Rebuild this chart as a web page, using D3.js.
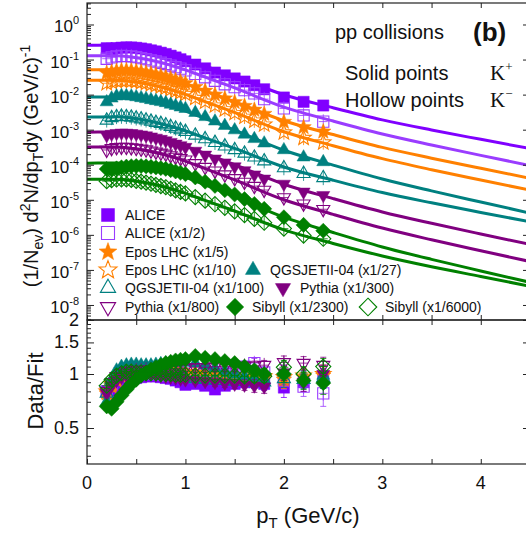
<!DOCTYPE html>
<html>
<head>
<meta charset="utf-8">
<title>Kaon spectra pp</title>
<script src="https://d3js.org/d3.v7.min.js"></script>
<style>
  body { margin: 0; background: #fff; }
  svg { display: block; font-family: "Liberation Sans", Arial, sans-serif; }
</style>
</head>
<body>
<svg id="chart" width="526" height="538"></svg>
<script>
// pT of the points and of the fit samples (GeV/c)
const ptPoints = [0.2, 0.25, 0.3, 0.35, 0.4, 0.45, 0.5, 0.55, 0.6, 0.65, 0.7, 0.75, 0.8, 0.85, 0.9, 0.95, 1.0,
                  1.1, 1.2, 1.3, 1.4, 1.5, 1.6, 1.7, 1.8, 2.0, 2.2, 2.4];
const ptCurve = [0, 0.3, 0.6, 0.9, 1.2, 1.5, 2.0, 2.5, 3.0, 3.5, 4.0, 4.5];

const seriesLabels = ["ALICE", "ALICE (x1/2)", "Epos LHC (x1/5)", "Epos LHC (x1/10)", "QGSJETII-04 (x1/27)",
                      "QGSJETII-04 (x1/100)", "Pythia (x1/300)", "Pythia (x1/800)", "Sibyll (x1/2300)", "Sibyll (x1/6000)"];
const scaleFactors = [1, 1/2, 1/5, 1/10, 1/27, 1/100, 1/300, 1/800, 1/2300, 1/6000];
const seriesColors = ["#8000ff", "#9a3cff", "#ff8000", "#ff8000", "#008080", "#008080", "#800080", "#800080", "#008000", "#008000"];
const seriesShapes = ["square", "square", "star", "star", "triangle", "triangle", "tridown", "tridown", "diamond", "diamond"];
const seriesFilled = [true, false, true, false, true, false, true, false, true, false];

// spectra, unscaled (1/Nev d2N/dpTdy)
const aliceKp = [0.211, 0.204, 0.212, 0.218, 0.222, 0.221, 0.216, 0.207, 0.197, 0.183, 0.171, 0.157, 0.144, 0.129, 0.115, 0.102, 0.0893,
                 0.0719, 0.0561, 0.0426, 0.0355, 0.0290, 0.0236, 0.0185, 0.0142, 0.00828, 0.00621, 0.00489];
const aliceKm = [0.211, 0.231, 0.245, 0.254, 0.252, 0.245, 0.234, 0.220, 0.205, 0.189, 0.176, 0.162, 0.149, 0.135, 0.121, 0.110, 0.0985,
                 0.0783, 0.0624, 0.0496, 0.0394, 0.0325, 0.0268, 0.0217, 0.0149, 0.00806, 0.00509, 0.00340];
const eposKp = [0.206, 0.223, 0.237, 0.246, 0.247, 0.243, 0.234, 0.224, 0.211, 0.198, 0.185, 0.172, 0.160, 0.144, 0.130, 0.118, 0.106,
                0.0825, 0.0640, 0.0499, 0.0389, 0.0304, 0.0237, 0.0184, 0.0141, 0.00832, 0.00589, 0.00440];
const eposKm = [0.211, 0.231, 0.245, 0.254, 0.254, 0.250, 0.241, 0.228, 0.215, 0.200, 0.185, 0.172, 0.158, 0.143, 0.128, 0.117, 0.105,
                0.0807, 0.0630, 0.0490, 0.0381, 0.0300, 0.0234, 0.0182, 0.0141, 0.00837, 0.00584, 0.00434];
const qgsKp = [0.166, 0.212, 0.244, 0.251, 0.249, 0.242, 0.231, 0.217, 0.205, 0.191, 0.179, 0.168, 0.157, 0.142, 0.130, 0.118, 0.107,
               0.0825, 0.0627, 0.0470, 0.0351, 0.0263, 0.0198, 0.0148, 0.0111, 0.00713, 0.00443, 0.00325];
const qgsKm = [0.185, 0.217, 0.232, 0.237, 0.233, 0.225, 0.212, 0.200, 0.186, 0.172, 0.158, 0.148, 0.135, 0.121, 0.109, 0.0978, 0.0877,
               0.0689, 0.0543, 0.0425, 0.0338, 0.0266, 0.0211, 0.0163, 0.0127, 0.00809, 0.00557, 0.00422];
const pythiaKp = [0.206, 0.225, 0.237, 0.243, 0.242, 0.236, 0.227, 0.2155, 0.203, 0.189, 0.174, 0.161, 0.147, 0.132, 0.118, 0.106, 0.0954,
                  0.0739, 0.0573, 0.0444, 0.0343, 0.0266, 0.0206, 0.0156, 0.0119, 0.00848, 0.00506, 0.00405];
const pythiaKm = [0.211, 0.236, 0.250, 0.256, 0.254, 0.248, 0.238, 0.226, 0.215, 0.200, 0.187, 0.174, 0.163, 0.147, 0.133, 0.122, 0.111,
                  0.0872, 0.0682, 0.0536, 0.0418, 0.0326, 0.0257, 0.0196, 0.0152, 0.00928, 0.00617, 0.00430];
const sibyllKp = [0.174, 0.168, 0.181, 0.193, 0.203, 0.209, 0.211, 0.211, 0.207, 0.200, 0.192, 0.184, 0.175, 0.161, 0.148, 0.136, 0.124,
                  0.0999, 0.0755, 0.0574, 0.0432, 0.0326, 0.0241, 0.0175, 0.0127, 0.00731, 0.00443, 0.00301];
const sibyllKm = [0.204, 0.219, 0.228, 0.230, 0.229, 0.221, 0.208, 0.198, 0.185, 0.172, 0.160, 0.148, 0.137, 0.124, 0.111, 0.101, 0.0914,
                  0.0716, 0.0567, 0.0449, 0.0355, 0.0281, 0.0220, 0.0171, 0.0133, 0.00904, 0.00573, 0.00464];

// fit curves, unscaled, at ptCurve
const fitAliceKp = [0.255, 0.258, 0.203, 0.126, 0.065, 0.033, 0.0099, 0.0042, 0.0019, 0.00098, 0.00053, 0.00029];
const fitAliceKm = [0.255, 0.258, 0.203, 0.126, 0.0635, 0.0311, 0.0088, 0.00352, 0.0015, 0.00073, 0.00037, 0.00019];
const fitEposKp = [0.255, 0.258, 0.203, 0.126, 0.0638, 0.0314, 0.0090, 0.00363, 0.00156, 0.00077, 0.000395, 0.000206];
const fitEposKm = [0.255, 0.258, 0.203, 0.126, 0.0634, 0.0310, 0.00875, 0.00349, 0.00149, 0.00072, 0.000366, 0.000189];
const fitQgsKp = [0.230, 0.232, 0.183, 0.113, 0.0558, 0.0263, 0.0070, 0.00264, 0.00106, 0.000486, 0.000233, 0.000113];
const fitQgsKm = [0.230, 0.232, 0.183, 0.113, 0.0582, 0.0292, 0.00864, 0.00361, 0.00161, 0.00082, 0.000436, 0.000235];
const fitPythiaKp = [0.255, 0.258, 0.203, 0.126, 0.0628, 0.0303, 0.00835, 0.00325, 0.00135, 0.00064, 0.000317, 0.00016];
const fitPythiaKm = [0.255, 0.258, 0.203, 0.126, 0.0623, 0.0297, 0.00803, 0.00307, 0.00125, 0.00058, 0.000282, 0.000139];
const fitSibyllKp = [0.255, 0.258, 0.203, 0.126, 0.0612, 0.0284, 0.00734, 0.00268, 0.00104, 0.00046, 0.000215, 0.000102];
const fitSibyllKm = [0.230, 0.232, 0.183, 0.113, 0.0578, 0.0287, 0.00833, 0.00341, 0.0015, 0.00074, 0.00039, 0.000206];

// Data/Fit
const ratioAliceKp = [0.80, 0.78, 0.82, 0.86, 0.90, 0.93, 0.95, 0.96, 0.97, 0.97, 0.97, 0.96, 0.95, 0.94, 0.92, 0.90, 0.87,
                      0.88, 0.86, 0.82, 0.86, 0.88, 0.90, 0.90, 0.88, 0.84, 0.90, 0.95];
const ratioAliceKm = [0.80, 0.88, 0.95, 1.0, 1.02, 1.03, 1.03, 1.02, 1.01, 1.0, 1.0, 0.99, 0.98, 0.98, 0.97, 0.97, 0.96,
                      0.97, 0.98, 0.99, 1.0, 1.05, 1.10, 1.15, 1.02, 0.92, 0.85, 0.78];
const ratioEposKp = [0.78, 0.85, 0.92, 0.97, 1.0, 1.02, 1.03, 1.04, 1.04, 1.05, 1.05, 1.05, 1.05, 1.05, 1.04, 1.04, 1.03,
                     1.02, 1.0, 0.99, 0.98, 0.97, 0.96, 0.96, 0.95, 0.93, 0.96, 0.98];
const ratioEposKm = [0.80, 0.88, 0.95, 1.0, 1.03, 1.05, 1.06, 1.06, 1.06, 1.06, 1.05, 1.05, 1.04, 1.04, 1.03, 1.03, 1.02,
                     1.0, 0.99, 0.98, 0.97, 0.97, 0.96, 0.97, 0.97, 0.96, 0.98, 1.0];
const ratioQgsKp = [0.70, 0.90, 1.05, 1.10, 1.12, 1.13, 1.13, 1.12, 1.12, 1.12, 1.13, 1.14, 1.15, 1.15, 1.16, 1.16, 1.16,
                    1.15, 1.12, 1.08, 1.04, 1.0, 0.97, 0.95, 0.93, 1.02, 0.95, 0.98];
const ratioQgsKm = [0.78, 0.92, 1.0, 1.04, 1.05, 1.05, 1.04, 1.03, 1.02, 1.01, 1.0, 1.0, 0.99, 0.98, 0.97, 0.96, 0.95,
                    0.94, 0.93, 0.92, 0.92, 0.91, 0.91, 0.90, 0.90, 0.94, 0.93, 0.95];
const ratioPythiaKp = [0.78, 0.86, 0.92, 0.96, 0.98, 0.99, 1.0, 1.0, 1.0, 1.0, 0.99, 0.98, 0.97, 0.96, 0.95, 0.94, 0.93,
                       0.92, 0.91, 0.90, 0.89, 0.88, 0.87, 0.86, 0.85, 1.02, 0.90, 1.0];
const ratioPythiaKm = [0.80, 0.90, 0.97, 1.01, 1.03, 1.04, 1.05, 1.05, 1.06, 1.06, 1.06, 1.06, 1.07, 1.07, 1.07, 1.08, 1.08,
                       1.09, 1.09, 1.10, 1.10, 1.10, 1.11, 1.11, 1.12, 1.16, 1.15, 1.12];
const ratioSibyllKp = [0.66, 0.64, 0.70, 0.76, 0.82, 0.88, 0.93, 0.98, 1.02, 1.06, 1.09, 1.12, 1.15, 1.17, 1.19, 1.20, 1.21,
                       1.26, 1.23, 1.21, 1.18, 1.15, 1.10, 1.05, 1.00, 1.00, 0.92, 0.89];
const ratioSibyllKm = [0.86, 0.93, 0.98, 1.01, 1.03, 1.03, 1.02, 1.02, 1.01, 1.01, 1.01, 1.0, 1.0, 1.0, 0.99, 0.99, 0.99,
                       0.98, 0.98, 0.98, 0.98, 0.98, 0.97, 0.97, 0.97, 1.09, 1.0, 1.1];
// error on the ratio, same for all series
const ratioErr = [0.03, 0.03, 0.03, 0.03, 0.03, 0.03, 0.03, 0.03, 0.03, 0.03, 0.03, 0.03, 0.03, 0.03, 0.03, 0.03, 0.04,
                  0.04, 0.04, 0.05, 0.05, 0.05, 0.06, 0.07, 0.07, 0.10, 0.10, 0.12];

const spectra = [aliceKp, aliceKm, eposKp, eposKm, qgsKp, qgsKm, pythiaKp, pythiaKm, sibyllKp, sibyllKm];
const fits = [fitAliceKp, fitAliceKm, fitEposKp, fitEposKm, fitQgsKp, fitQgsKm, fitPythiaKp, fitPythiaKm, fitSibyllKp, fitSibyllKm];
const ratios = [ratioAliceKp, ratioAliceKm, ratioEposKp, ratioEposKm, ratioQgsKp, ratioQgsKm, ratioPythiaKp, ratioPythiaKm, ratioSibyllKp, ratioSibyllKm];

const decades = [1, 1e-1, 1e-2, 1e-3, 1e-4, 1e-5, 1e-6, 1e-7, 1e-8];
const decadeExp = ["0", "-1", "-2", "-3", "-4", "-5", "-6", "-7", "-8"];
const ratioTicks = [0.5, 1, 1.5, 2];
const ratioMinor = [0.35, 0.4, 0.45, 0.6, 0.7, 0.8, 0.9, 1.1, 1.2, 1.3, 1.4, 1.6, 1.7, 1.8, 1.9];
const xLabels = [0, 1, 2, 3, 4];

const svg = d3.select("#chart");
const L = 87, R = 530, T = 3, MID = 320, B = 464;

const x = d3.scaleLinear().domain([0, 4.5]).range([L, R]);
const yTop = d3.scaleLog().domain([3.73e-9, 4.1]).range([MID, T]);
const yRat = d3.scaleLog().domain([0.315, 2]).range([B, MID]);

// marker shapes
function markerPath(shape, s) {
    if (shape === "square") return `M${-s},${-s}h${2*s}v${2*s}h${-2*s}Z`;
    if (shape === "triangle") { const r = s * 1.35; return `M0,${-r}L${r*0.866},${r*0.5}L${-r*0.866},${r*0.5}Z`; }
    if (shape === "tridown") { const r = s * 1.35; return `M0,${r}L${r*0.866},${-r*0.5}L${-r*0.866},${-r*0.5}Z`; }
    if (shape === "diamond") { const r = s * 1.35; return `M0,${-r}L${r},0L0,${r}L${-r},0Z`; }
    // star
    const ro = s * 1.45, ri = ro * 0.42;
    let p = "";
    for (let k = 0; k < 10; k++) {
        const a = -Math.PI / 2 + k * Math.PI / 5;
        const rr = k % 2 === 0 ? ro : ri;
        p += (k === 0 ? "M" : "L") + (rr * Math.cos(a)).toFixed(2) + "," + (rr * Math.sin(a)).toFixed(2);
    }
    return p + "Z";
}

function drawMarker(g, i, cx, cy, s, cross) {
    const col = seriesColors[i];
    const m = g.append("g").attr("transform", `translate(${cx},${cy})`);
    m.append("path")
        .attr("d", markerPath(seriesShapes[i], s))
        .attr("fill", seriesFilled[i] ? col : "none")
        .attr("stroke", col)
        .attr("stroke-width", seriesFilled[i] ? 0.5 : 1.1);
    if (cross && !seriesFilled[i]) {
        m.append("path")
            .attr("d", `M0,${-s*1.3}V${s*1.3}M${-s*0.8},0H${s*0.8}`)
            .attr("stroke", col).attr("stroke-width", 0.8).attr("fill", "none");
    }
}

svg.append("defs").append("clipPath").attr("id", "clipTop")
    .append("rect").attr("x", L).attr("y", T).attr("width", R - L).attr("height", MID - T);
svg.append("defs").append("clipPath").attr("id", "clipBot")
    .append("rect").attr("x", L).attr("y", MID).attr("width", R - L).attr("height", B - MID);

// ---- top panel: fit curves
const line = d3.line().curve(d3.curveMonotoneX);
const curveG = svg.append("g").attr("clip-path", "url(#clipTop)");
fits.forEach((f, i) => {
    curveG.append("path")
        .attr("d", line(ptCurve.map((p, k) => [x(p), yTop(f[k] * scaleFactors[i])])))
        .attr("fill", "none")
        .attr("stroke", seriesColors[i])
        .attr("stroke-width", 3);
});

// ---- top panel: points
const ptG = svg.append("g").attr("clip-path", "url(#clipTop)");
spectra.forEach((vals, i) => {
    vals.forEach((v, k) => drawMarker(ptG, i, x(ptPoints[k]), yTop(v * scaleFactors[i]), 5.6, true));
});

// ---- bottom panel: ratios
const ratG = svg.append("g").attr("clip-path", "url(#clipBot)");
ratios.forEach((vals, i) => {
    vals.forEach((v, k) => {
        const cx = x(ptPoints[k]);
        const e = ratioErr[k];
        ratG.append("path")
            .attr("d", `M${cx},${yRat(v + e)}V${yRat(v - e)}M${cx-3},${yRat(v + e)}h6M${cx-3},${yRat(v - e)}h6`)
            .attr("stroke", seriesColors[i]).attr("stroke-width", 0.8).attr("fill", "none");
        drawMarker(ratG, i, cx, yRat(v), 5.6, true);
    });
});

// ---- frames and ticks
const axG = svg.append("g").attr("stroke", "#222").attr("fill", "none");
axG.append("rect").attr("x", L).attr("y", T).attr("width", R - L).attr("height", MID - T).attr("stroke-width", 1.2);
axG.append("rect").attr("x", L).attr("y", MID).attr("width", R - L).attr("height", B - MID).attr("stroke-width", 1.2);

function tickAxis(gen, tx, ty) {
    const g = svg.append("g").attr("transform", `translate(${tx},${ty})`).call(gen);
    g.select(".domain").remove();
    g.selectAll("line").attr("stroke", "#222").attr("stroke-width", 1);
    return g;
}
const minorTop = [];
for (let e = -9; e <= 0; e++) for (let m = 2; m <= 9; m++) minorTop.push(m * Math.pow(10, e));
const minorTopIn = minorTop.filter(v => v > yTop.domain()[0] && v < yTop.domain()[1]);

tickAxis(d3.axisLeft(yTop).tickValues(decades).tickSize(-7).tickFormat(""), L, 0);
tickAxis(d3.axisLeft(yTop).tickValues(minorTopIn).tickSize(-4).tickFormat(""), L, 0);
tickAxis(d3.axisRight(yTop).tickValues(decades).tickSize(-7).tickFormat(""), R, 0);
tickAxis(d3.axisRight(yTop).tickValues(minorTopIn).tickSize(-4).tickFormat(""), R, 0);

tickAxis(d3.axisLeft(yRat).tickValues(ratioTicks).tickSize(-7).tickFormat(""), L, 0);
tickAxis(d3.axisLeft(yRat).tickValues(ratioMinor).tickSize(-4).tickFormat(""), L, 0);
tickAxis(d3.axisRight(yRat).tickValues(ratioTicks).tickSize(-7).tickFormat(""), R, 0);

const xt = d3.range(0, 4.51, 0.5);
tickAxis(d3.axisTop(x).tickValues(xt).tickSize(-5).tickFormat(""), 0, T);
tickAxis(d3.axisBottom(x).tickValues(xt).tickSize(-5).tickFormat(""), 0, MID);
tickAxis(d3.axisTop(x).tickValues(xt).tickSize(-5).tickFormat(""), 0, MID);
tickAxis(d3.axisBottom(x).tickValues(xt).tickSize(-5).tickFormat(""), 0, B);

// ---- tick labels
const lab = svg.append("g").attr("fill", "#111");
decades.forEach((d, k) => {
    const t = lab.append("text").attr("x", 79).attr("y", yTop(d) + 8)
        .attr("text-anchor", "end").attr("font-size", 17).text("10");
    t.append("tspan").attr("dy", -8).attr("font-size", 11).text(decadeExp[k]);
});
ratioTicks.forEach(v => {
    lab.append("text").attr("x", 79).attr("y", yRat(v) + 6)
        .attr("text-anchor", "end").attr("font-size", 18).text(v);
});
xLabels.forEach(v => {
    lab.append("text").attr("x", x(v)).attr("y", 489)
        .attr("text-anchor", "middle").attr("font-size", 18).text(v);
});

// ---- axis titles
const yt = lab.append("text").attr("transform", "translate(38,166) rotate(-90)")
    .attr("text-anchor", "middle").attr("font-size", 20);
yt.append("tspan").text("(1/N");
yt.append("tspan").attr("font-size", 14).attr("dy", 5).text("ev");
yt.append("tspan").attr("dy", -5).text(") d");
yt.append("tspan").attr("font-size", 14).attr("dy", -8).text("2");
yt.append("tspan").attr("dy", 8).text("N/dp");
yt.append("tspan").attr("font-size", 14).attr("dy", 5).text("T");
yt.append("tspan").attr("dy", -5).text("dy (GeV/c)");
yt.append("tspan").attr("font-size", 14).attr("dy", -8).text("-1");

lab.append("text").attr("transform", "translate(43,391) rotate(-90)")
    .attr("text-anchor", "middle").attr("font-size", 22).text("Data/Fit");

const xtl = lab.append("text").attr("x", 308).attr("y", 523).attr("text-anchor", "middle").attr("font-size", 22);
xtl.append("tspan").text("p");
xtl.append("tspan").attr("font-size", 15).attr("dy", 5).text("T");
xtl.append("tspan").attr("dy", -5).text(" (GeV/c)");

// ---- annotations
lab.append("text").attr("x", 335).attr("y", 39).attr("font-size", 20).text("pp collisions");
lab.append("text").attr("x", 473).attr("y", 41).attr("font-size", 26).attr("font-weight", "bold").text("(b)");
lab.append("text").attr("x", 345).attr("y", 80).attr("font-size", 20).text("Solid points");
lab.append("text").attr("x", 345).attr("y", 107).attr("font-size", 20).text("Hollow points");
const kp = lab.append("text").attr("x", 490).attr("y", 80).attr("font-size", 21).attr("font-family", "Liberation Serif, serif").text("K");
kp.append("tspan").attr("dy", -9).attr("font-size", 13).text("+");
const km = lab.append("text").attr("x", 490).attr("y", 107).attr("font-size", 21).attr("font-family", "Liberation Serif, serif").text("K");
km.append("tspan").attr("dy", -9).attr("font-size", 13).text("\u2212");

// ---- legend
const legendPos = [
    [108, 215], [108, 233], [108, 252], [108, 270], [253, 270],
    [108, 288], [283, 288], [108, 307], [235, 307], [368, 307]
];
const legG = svg.append("g");
seriesLabels.forEach((name, i) => {
    const [lx, ly] = legendPos[i];
    drawMarker(legG, i, lx, ly, 6.5, false);
    legG.append("text").attr("x", lx + 17).attr("y", ly + 5)
        .attr("font-size", 14).attr("fill", "#111").text(name);
});
</script>
</body>
</html>
